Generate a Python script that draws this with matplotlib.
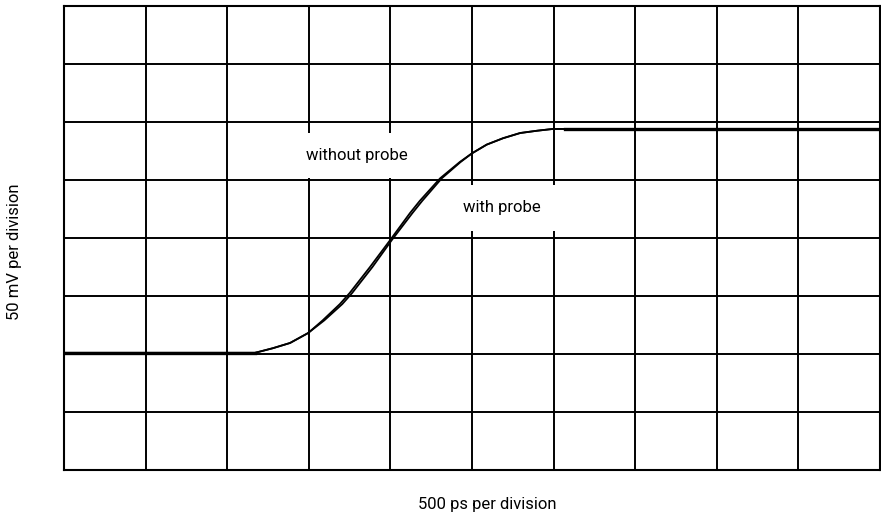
import matplotlib
matplotlib.use("Agg")
import matplotlib.pyplot as plt

plt.rcParams['font.family'] = ['Roboto', 'DejaVu Sans']

# time in divisions (500 ps/div), voltage in divisions (50 mV/div)
t_without = [0.0, 2.34, 2.56, 2.77, 2.99, 3.17, 3.38, 3.50, 3.75, 4.00, 4.24, 4.36, 4.61, 4.85, 5.00, 5.18, 5.38, 5.59, 5.80, 5.99, 6.14, 10.0]
v_without = [2.02, 2.02, 2.10, 2.19, 2.36, 2.58, 2.86, 3.05, 3.50, 3.97, 4.43, 4.64, 5.03, 5.31, 5.46, 5.61, 5.72, 5.81, 5.85, 5.88, 5.88, 5.88]

t_with = [0.0, 2.34, 2.56, 2.77, 2.99, 3.19, 3.41, 3.53, 3.78, 4.02, 4.27, 4.39, 4.63, 4.86, 5.00, 5.18, 5.38, 5.59, 5.80, 5.99, 6.14, 10.0]
v_with = [2.02, 2.02, 2.10, 2.19, 2.36, 2.58, 2.86, 3.05, 3.50, 3.97, 4.43, 4.64, 5.03, 5.31, 5.46, 5.61, 5.72, 5.81, 5.85, 5.88, 5.88, 5.88]

n_xdiv = 10
n_ydiv = 8

fig = plt.figure(figsize=(8.81, 5.19), dpi=100)
ax = fig.add_axes([64 / 881, 1 - 470 / 519, 816 / 881, 464 / 519])

ax.set_xlim(0, n_xdiv)
ax.set_ylim(0, n_ydiv)
ax.set_xticks(range(n_xdiv + 1))
ax.set_yticks(range(n_ydiv + 1))
ax.grid(True, color='black', linewidth=1.4)
ax.tick_params(length=0, labelbottom=False, labelleft=False)
for s in ax.spines.values():
    s.set_linewidth(1.5)

ax.plot(t_without, v_without, color='black', linewidth=1.3, zorder=3)
ax.plot(t_with, v_with, color='black', linewidth=1.3, zorder=3)
ax.plot([6.14, 10.0], [5.88, 5.88], color='black', linewidth=2.4, zorder=3)
ax.plot([0.0, 2.34], [2.02, 2.02], color='black', linewidth=2.4, zorder=3)

box = dict(facecolor='white', edgecolor='none', pad=11)
ax.text(3.59, 5.42, 'without probe', fontsize=12, ha='center', va='center', bbox=box, zorder=4)
ax.text(5.36, 4.52, 'with probe', fontsize=12, ha='center', va='center', bbox=box, zorder=4)

fig.text(487 / 881, 1 - 504 / 519, '500 ps per division', fontsize=12, ha='center', va='center')
fig.text(15 / 881, 1 - 252 / 519, '50 mV per division', fontsize=12, ha='center', va='center', rotation=90)

fig.savefig('out.png', dpi=100)
